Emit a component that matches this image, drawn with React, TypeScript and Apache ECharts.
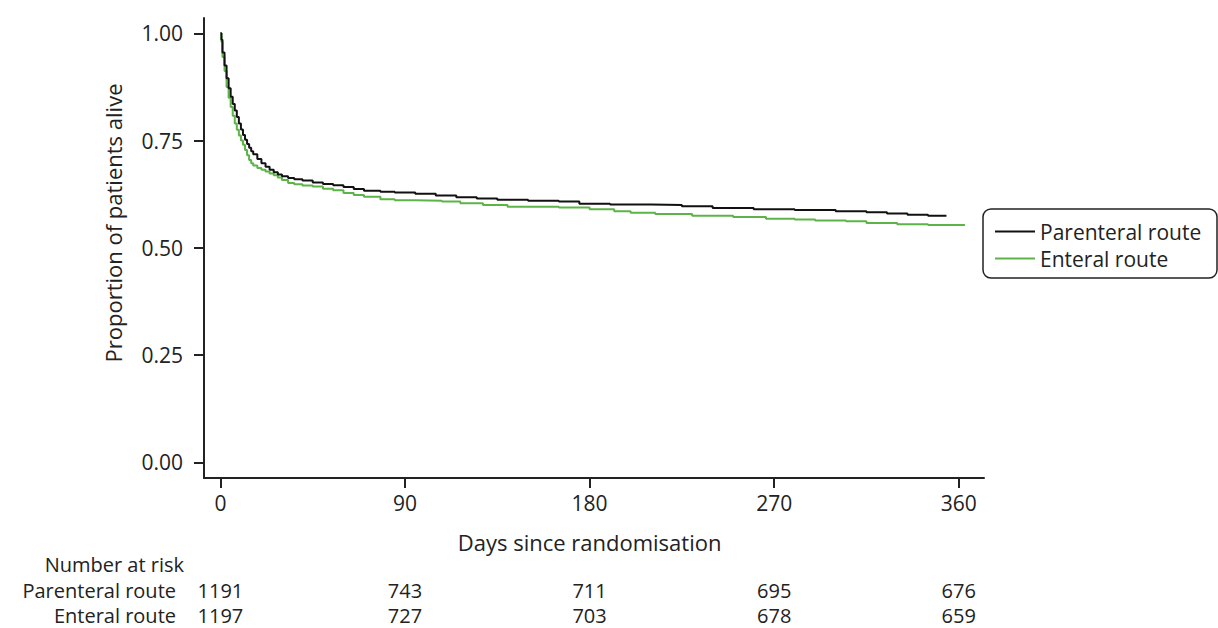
import React, { useEffect, useRef } from "react";
import * as echarts from "echarts";

const xTicks = [0, 90, 180, 270, 360];
const yTicks = [0, 0.25, 0.5, 0.75, 1];

const seriesNames = ["Parenteral route", "Enteral route"];
const seriesColors = ["#111111", "#5cb446"];

const parenteralDays = [0, 0.5, 1, 2, 3, 4, 5, 6, 7, 8, 9, 10, 11, 12, 13, 14, 15, 16, 18, 20, 22, 24, 26, 28, 30, 33, 36, 40, 45, 50, 55, 60, 65, 70, 78, 85, 95, 105, 115, 125, 135, 150, 165, 175, 190, 210, 225, 240, 260, 280, 300, 315, 325, 335, 345, 354];
const parenteralSurv = [1.0, 0.985, 0.955, 0.925, 0.895, 0.872, 0.852, 0.835, 0.82, 0.805, 0.79, 0.776, 0.763, 0.752, 0.742, 0.733, 0.725, 0.718, 0.707, 0.697, 0.689, 0.682, 0.676, 0.671, 0.667, 0.663, 0.66, 0.657, 0.652, 0.649, 0.646, 0.642, 0.637, 0.633, 0.631, 0.629, 0.626, 0.622, 0.618, 0.615, 0.612, 0.61, 0.608, 0.603, 0.601, 0.6, 0.597, 0.593, 0.59, 0.588, 0.585, 0.583, 0.58, 0.577, 0.575, 0.574];

const enteralDays = [0, 0.5, 1, 2, 3, 4, 5, 6, 7, 8, 9, 10, 11, 12, 13, 14, 15, 16, 18, 20, 22, 24, 26, 28, 30, 33, 36, 40, 45, 50, 55, 60, 65, 70, 78, 85, 95, 108, 117, 128, 140, 165, 180, 192, 200, 212, 230, 250, 266, 280, 290, 305, 315, 330, 345, 363];
const enteralSurv = [1.0, 0.98, 0.945, 0.912, 0.875, 0.85, 0.828, 0.808, 0.79, 0.775, 0.762, 0.75, 0.74, 0.728, 0.716, 0.705, 0.697, 0.692, 0.686, 0.682, 0.678, 0.673, 0.669, 0.664, 0.658, 0.651, 0.648, 0.645, 0.643, 0.638, 0.634, 0.628, 0.623, 0.619, 0.613, 0.611, 0.61, 0.608, 0.604, 0.6, 0.596, 0.594, 0.59, 0.585, 0.582, 0.579, 0.575, 0.572, 0.568, 0.566, 0.564, 0.562, 0.558, 0.555, 0.553, 0.553];

const riskTitle = "Number at risk";
const riskParenteral = [1191, 743, 711, 695, 676];
const riskEnteral = [1197, 727, 703, 678, 659];

const xAxisTitle = "Days since randomisation";
const yAxisTitle = "Proportion of patients alive";

const FONT = "'Open Sans', 'Noto Sans', sans-serif";
const TXT = "#222222";

function zip(a: number[], b: number[]) {
  return a.map((v, i) => [v, b[i]]);
}

export default function App() {
  const ref = useRef<HTMLDivElement>(null);
  useEffect(() => {
    document.body.style.margin = "0";
    const chart = echarts.init(ref.current!, null, { renderer: "svg" });
    chart.setOption({
      animation: false,
      backgroundColor: "#ffffff",
      textStyle: { fontFamily: FONT },
      grid: { left: 204, right: 234, top: 18, bottom: 150, containLabel: false },
      xAxis: {
        type: "value",
        min: -8,
        max: 372.3,
        axisLine: { show: true, onZero: false, lineStyle: { color: TXT, width: 2 } },
        axisTick: { show: true, length: 10, lineStyle: { color: TXT, width: 2 }, customValues: xTicks },
        axisLabel: { customValues: xTicks, fontSize: 21, color: TXT, margin: 14, fontFamily: FONT },
        splitLine: { show: false },
      },
      yAxis: {
        type: "value",
        min: -0.0363,
        max: 1.0356,
        axisLine: { show: true, onZero: false, lineStyle: { color: TXT, width: 2 } },
        axisTick: { show: true, length: 10, lineStyle: { color: TXT, width: 2 }, customValues: yTicks },
        axisLabel: {
          customValues: yTicks,
          fontSize: 21,
          color: TXT,
          margin: 21,
          fontFamily: FONT,
          formatter: (v: number) => v.toFixed(2),
        },
        splitLine: { show: false },
      },
      legend: {
        show: true,
        orient: "vertical",
        left: 995,
        top: 221,
        padding: 0,
        itemWidth: 40,
        itemHeight: 20,
        itemGap: 6,
        icon: "path://M0,9 L40,9 L40,11 L0,11 Z",
        textStyle: { fontSize: 21, color: TXT, fontFamily: FONT },
        data: seriesNames,
      },
      series: [
        {
          name: seriesNames[0],
          type: "line",
          step: "end",
          symbol: "none",
          data: zip(parenteralDays, parenteralSurv),
          lineStyle: { color: seriesColors[0], width: 2 },
          itemStyle: { color: seriesColors[0] },
          z: 3,
        },
        {
          name: seriesNames[1],
          type: "line",
          step: "end",
          symbol: "none",
          data: zip(enteralDays, enteralSurv),
          lineStyle: { color: seriesColors[1], width: 2 },
          itemStyle: { color: seriesColors[1] },
          z: 2,
        },
      ],
    });

    const px = (d: number) => chart.convertToPixel({ xAxisIndex: 0 }, d) as number;
    const g: any[] = [
      {
        type: "rect",
        shape: { x: 983, y: 209, width: 234, height: 69, r: 8 },
        style: { fill: "none", stroke: TXT, lineWidth: 1.5 },
      },
      {
        type: "text",
        x: 113,
        y: 223,
        rotation: Math.PI / 2,
        style: { text: yAxisTitle, fontSize: 22, fill: TXT, fontFamily: FONT, align: "center", verticalAlign: "middle" },
      },
      {
        type: "text",
        x: px(180),
        y: 542,
        style: { text: xAxisTitle, fontSize: 22, fill: TXT, fontFamily: FONT, align: "center", verticalAlign: "middle" },
      },
      {
        type: "text",
        x: 184,
        y: 564,
        style: { text: riskTitle, fontSize: 20, fill: TXT, fontFamily: FONT, align: "right", verticalAlign: "middle" },
      },
    ];
    const rows = [
      { label: seriesNames[0], vals: riskParenteral, y: 590 },
      { label: seriesNames[1], vals: riskEnteral, y: 615 },
    ];
    rows.forEach((r) => {
      g.push({
        type: "text",
        x: 176,
        y: r.y,
        style: { text: r.label, fontSize: 20, fill: TXT, fontFamily: FONT, align: "right", verticalAlign: "middle" },
      });
      r.vals.forEach((v, i) => {
        g.push({
          type: "text",
          x: px(xTicks[i]),
          y: r.y,
          style: { text: String(v), fontSize: 20, fill: TXT, fontFamily: FONT, align: "center", verticalAlign: "middle" },
        });
      });
    });
    chart.setOption({ graphic: g });
    return () => chart.dispose();
  }, []);
  return <div ref={ref} style={{ position: "fixed", left: 0, top: 0, width: 1218, height: 628 }} />;
}
